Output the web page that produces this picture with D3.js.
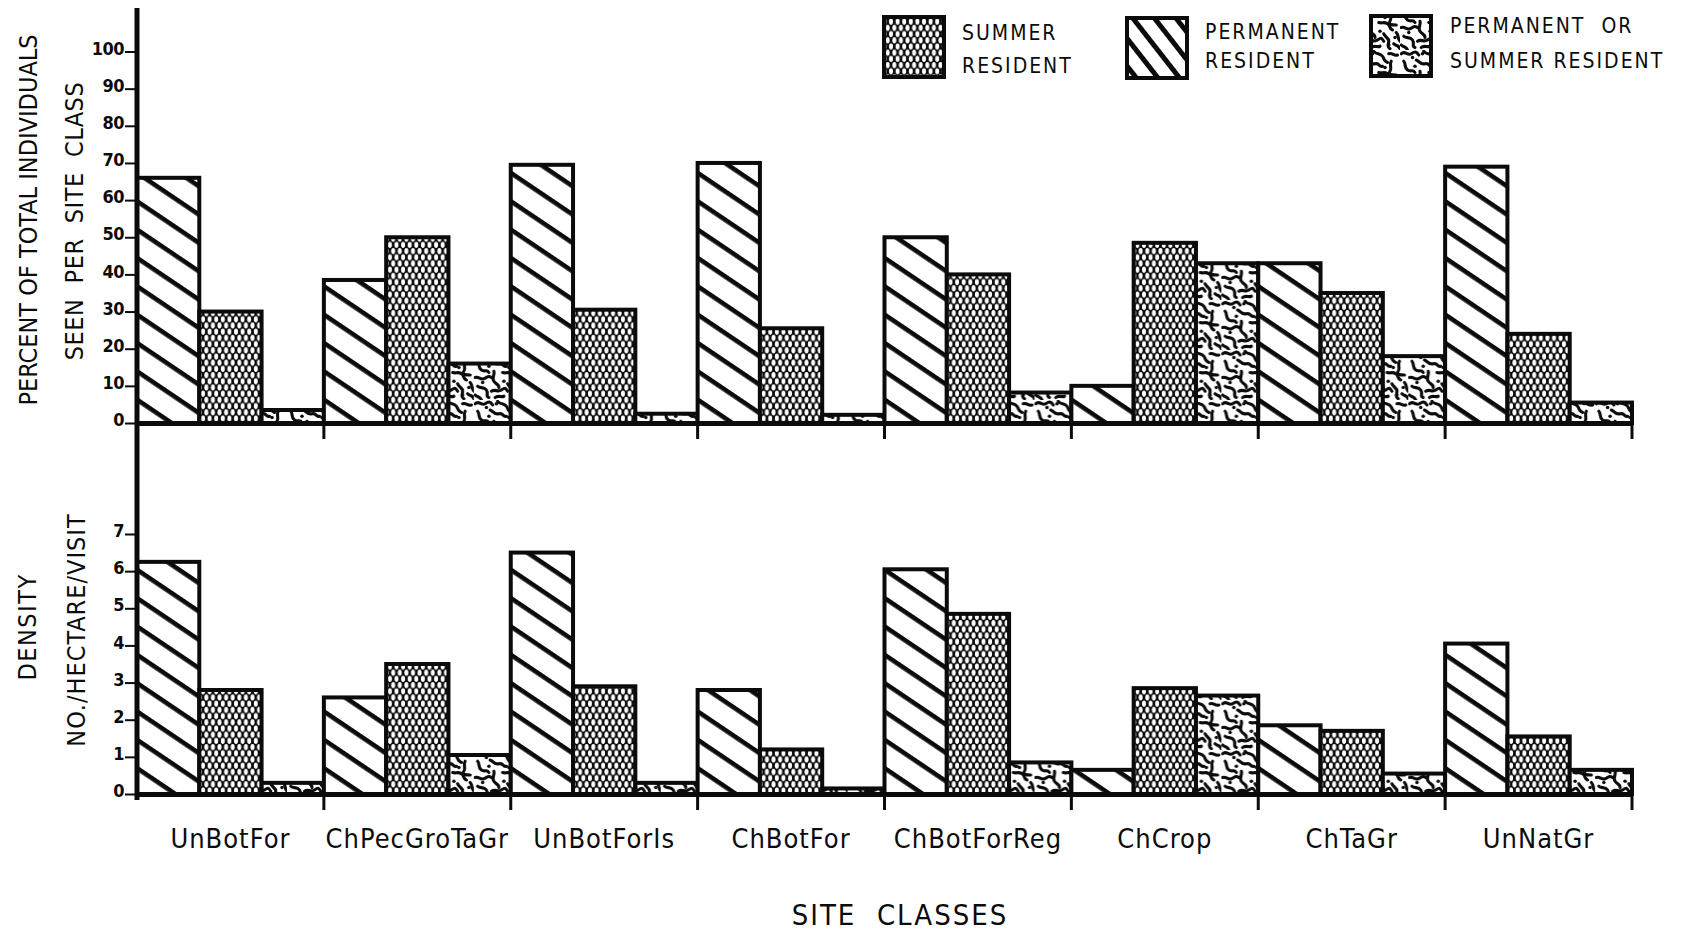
<!DOCTYPE html>
<html>
<head>
<meta charset="utf-8">
<script src="https://cdn.jsdelivr.net/npm/d3@7"></script>
<style>
  html, body { margin: 0; padding: 0; background: #fff; }
  svg { display: block; }
  text { font-family: "Liberation Sans Narrow", "DejaVu Sans Condensed", "Arial Narrow", sans-serif; fill: #0b0b0b; white-space: pre; }
</style>
</head>
<body>
<svg id="chart" width="1682" height="932"></svg>
<script>
// ---- data -------------------------------------------------------------
const categories = ["UnBotFor", "ChPecGroTaGr", "UnBotForIs", "ChBotFor", "ChBotForReg", "ChCrop", "ChTaGr", "UnNatGr"];
const seriesKeys = ["permanent", "summer", "either"];

// percent of total individuals seen per site class
const pctPermanent = [66, 38.5, 69.5, 70, 50, 10, 43, 69];
const pctSummer    = [30, 50, 30.5, 25.5, 40, 48.5, 35, 24];
const pctEither    = [3.5, 16, 2.5, 2.2, 8.2, 43, 18, 5.5];

// density, no./hectare/visit
const densPermanent = [6.25, 2.6, 6.5, 2.8, 6.05, 0.65, 1.85, 4.05];
const densSummer    = [2.8, 3.5, 2.9, 1.2, 4.85, 2.85, 1.7, 1.55];
const densEither    = [0.3, 1.05, 0.3, 0.15, 0.85, 2.65, 0.55, 0.65];

const pctTicks  = [0, 10, 20, 30, 40, 50, 60, 70, 80, 90, 100];
const densTicks = [0, 1, 2, 3, 4, 5, 6, 7];

const legendKeys   = ["summer", "permanent", "either"];
const legendLabels = [["SUMMER", "RESIDENT"], ["PERMANENT", "RESIDENT"], ["PERMANENT  OR", "SUMMER RESIDENT"]];

// ---- setup ------------------------------------------------------------
const W = 1682, H = 932;
const INK = "#0b0b0b";
const FONT = "\"Liberation Sans Narrow\", \"DejaVu Sans Condensed\", sans-serif";
const svg = d3.select("#chart");
svg.append("rect").attr("width", W).attr("height", H).attr("fill", "#fff");
const defs = svg.append("defs");

// diagonal stripes (permanent resident)
function stripePattern(id, spacing, thick, angle) {
  const p = defs.append("pattern")
    .attr("id", id)
    .attr("patternUnits", "userSpaceOnUse")
    .attr("width", spacing).attr("height", spacing)
    .attr("patternTransform", `rotate(${angle})`);
  p.append("rect").attr("width", spacing).attr("height", spacing).attr("fill", "#fff");
  p.append("rect").attr("width", spacing).attr("height", thick).attr("fill", INK);
}
stripePattern("stripes", 23.5, 4.6, 34);
stripePattern("stripesKey", 17, 5, 52);

// dark lattice with white lens-shaped holes (summer resident)
{
  const pw = 6.6, ph = 12.4;
  const p = defs.append("pattern").attr("id", "dots")
    .attr("patternUnits", "userSpaceOnUse").attr("width", pw).attr("height", ph);
  p.append("rect").attr("width", pw).attr("height", ph).attr("fill", INK);
  [[pw / 2, ph / 4], [0, ph * 3 / 4], [pw, ph * 3 / 4]].forEach(([cx, cy]) => {
    p.append("ellipse").attr("cx", cx).attr("cy", cy).attr("rx", 2.0).attr("ry", 3.0).attr("fill", "#fff");
  });
}

// vermiculate squiggles (permanent or summer resident)
{
  const s = 40;
  const p = defs.append("pattern").attr("id", "worms")
    .attr("patternUnits", "userSpaceOnUse").attr("width", s).attr("height", s)
    .attr("patternTransform", "scale(1.25)");
  p.append("rect").attr("width", s).attr("height", s).attr("fill", "#fff");
  const squiggles = [
    "M1,3 C4,0 6,5 9,3 S13,1 15,4",
    "M19,1 C21,4 24,2 26,5 S27,9 30,10",
    "M31,3 C34,2 35,5 38,4",
    "M3,9 C5,11 3,14 6,16 S10,15 12,18",
    "M13,8 C16,9 16,12 20,11 S23,14 26,13",
    "M33,9 C31,12 34,14 32,17 S34,20 37,20",
    "M1,22 C4,21 5,24 8,23 S11,20 14,22",
    "M16,17 C17,20 14,22 16,25 S20,27 20,30",
    "M23,18 C26,19 27,17 30,19 S31,23 34,24",
    "M37,26 C39,28 38,31 40,33",
    "M3,29 C5,31 8,29 10,32 S9,37 12,38",
    "M14,33 C17,31 19,34 22,32 S25,30 27,33",
    "M27,27 C28,30 31,30 31,33 S29,37 32,39",
    "M35,35 C37,37 39,36 40,39",
    "M1,36 C3,38 5,37 6,40",
    "M17,38 C19,36 22,38 24,37"
  ];
  p.selectAll("path").data(squiggles).join("path")
    .attr("d", d => d)
    .attr("fill", "none").attr("stroke", INK)
    .attr("stroke-width", 2.5).attr("stroke-linecap", "round").attr("stroke-linejoin", "round");
  [[10, 6], [28, 14], [7, 26], [24, 25], [36, 30], [18, 3], [31, 36], [12, 13]].forEach(([cx, cy]) => {
    p.append("circle").attr("cx", cx).attr("cy", cy).attr("r", 1.4).attr("fill", INK);
  });
}

const fills = { permanent: "url(#stripes)", summer: "url(#dots)", either: "url(#worms)" };
const keyFills = { permanent: "url(#stripesKey)", summer: "url(#dots)", either: "url(#worms)" };

// ---- scales -----------------------------------------------------------
const axisX = 137, axisRight = 1632;
const x = d3.scaleBand().domain(categories).range([axisX, axisRight]).padding(0);
const xs = d3.scaleBand().domain(seriesKeys).range([0, x.bandwidth()]).padding(0);

const yPct  = d3.scaleLinear().domain([0, 100]).range([423, 51.5]);
const yDens = d3.scaleLinear().domain([0, 7]).range([794, 534]);

const pctRows = categories.map((c, i) => ({ cat: c, permanent: pctPermanent[i], summer: pctSummer[i], either: pctEither[i] }));
const densRows = categories.map((c, i) => ({ cat: c, permanent: densPermanent[i], summer: densSummer[i], either: densEither[i] }));

// ---- panels -----------------------------------------------------------
function drawPanel(rows, y, ticks) {
  const g = svg.append("g");

  g.selectAll("g.site").data(rows).join("g")
    .attr("class", "site")
    .attr("transform", d => `translate(${x(d.cat)},0)`)
    .selectAll("rect")
    .data(d => seriesKeys.map(k => ({ k, v: d[k] })))
    .join("rect")
    .attr("x", d => xs(d.k))
    .attr("width", xs.bandwidth())
    .attr("y", d => y(d.v))
    .attr("height", d => y(0) - y(d.v))
    .attr("fill", d => fills[d.k])
    .attr("stroke", INK)
    .attr("stroke-width", 4);

  // value axis
  const ya = g.append("g")
    .attr("transform", `translate(${axisX},0)`)
    .call(d3.axisLeft(y).tickValues(ticks).tickSize(12).tickPadding(1).tickFormat(d3.format("d")));
  ya.select(".domain").remove();
  ya.selectAll(".tick line").attr("stroke", INK).attr("stroke-width", 2);
  ya.selectAll(".tick text")
    .attr("dy", "0.15em")
    .attr("font-family", FONT)
    .attr("font-weight", "bold")
    .attr("font-size", 18)
    .attr("letter-spacing", -0.5)
    .attr("fill", INK);

  // baseline with site-class boundary ticks
  const xa = g.append("g")
    .attr("transform", `translate(0,${y(0)})`)
    .call(d3.axisBottom(x).tickValues([]).tickSizeOuter(0));
  xa.select(".domain").attr("stroke", INK).attr("stroke-width", 5);
  xa.selectAll("line.bound").data(categories).join("line")
    .attr("class", "bound")
    .attr("x1", d => x(d) + x.bandwidth()).attr("x2", d => x(d) + x.bandwidth())
    .attr("y1", 0).attr("y2", 16)
    .attr("stroke", INK).attr("stroke-width", 3);
  return g;
}

drawPanel(pctRows, yPct, pctTicks);
drawPanel(densRows, yDens, densTicks);

// continuous vertical axis line
svg.append("line")
  .attr("x1", axisX).attr("x2", axisX)
  .attr("y1", 8).attr("y2", 800)
  .attr("stroke", INK).attr("stroke-width", 5);

// site-class labels
const catAxis = svg.append("g")
  .attr("transform", `translate(0,${yDens(0)})`)
  .call(d3.axisBottom(x).tickSize(0).tickPadding(35));
catAxis.select(".domain").remove();
catAxis.selectAll(".tick text")
  .attr("font-family", FONT)
  .attr("font-size", 27)
  .attr("letter-spacing", 1)
  .attr("fill", INK);

// axis titles
function vTitle(txt, bx, cy, spacing) {
  svg.append("text")
    .attr("transform", `translate(${bx},${cy}) rotate(-90)`)
    .attr("text-anchor", "middle")
    .attr("font-size", 25)
    .attr("letter-spacing", spacing)
    .text(txt);
}
vTitle("PERCENT OF TOTAL INDIVIDUALS", 37, 220, 0);
vTitle("SEEN  PER  SITE  CLASS", 83, 221, 0.5);
vTitle("DENSITY", 36, 627, 1.5);
vTitle("NO./HECTARE/VISIT", 85, 630, 1);

svg.append("text")
  .attr("x", 900).attr("y", 925)
  .attr("text-anchor", "middle")
  .attr("font-size", 29)
  .attr("letter-spacing", 2)
  .text("SITE  CLASSES");

// ---- legend -----------------------------------------------------------
const keyBoxes = [
  { x: 884, y: 17, tx: 962, lines: [40, 73] },
  { x: 1127, y: 18, tx: 1205, lines: [39, 68] },
  { x: 1371, y: 16, tx: 1450, lines: [33, 68] }
];
legendKeys.forEach((k, i) => {
  const b = keyBoxes[i];
  svg.append("rect")
    .attr("x", b.x).attr("y", b.y).attr("width", 60).attr("height", 60)
    .attr("fill", keyFills[k]).attr("stroke", INK).attr("stroke-width", 4);
  legendLabels[i].forEach((t, j) => {
    svg.append("text")
      .attr("x", b.tx).attr("y", b.lines[j])
      .attr("font-size", 21)
      .attr("letter-spacing", 2)
      .text(t);
  });
});
</script>
</body>
</html>
